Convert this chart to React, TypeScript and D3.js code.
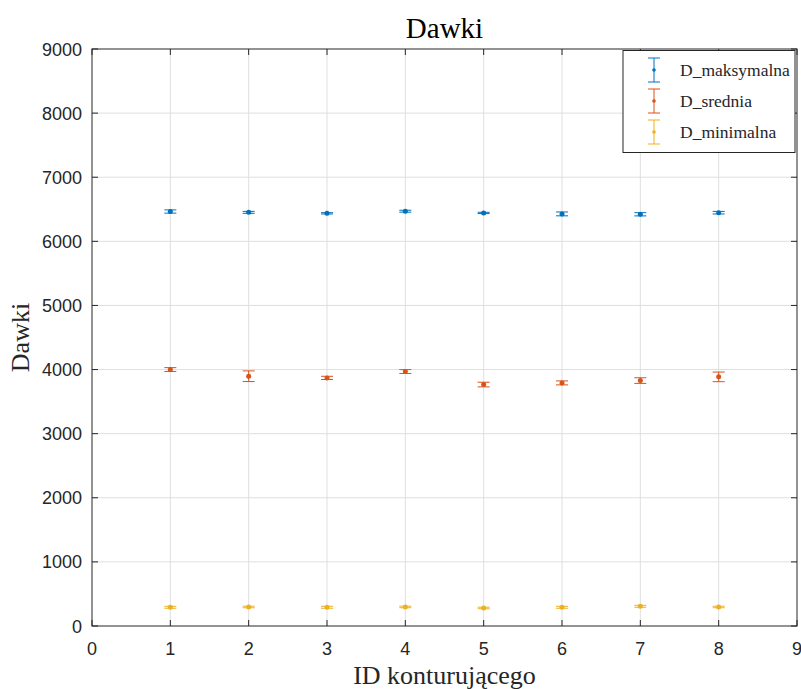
import React from "react";
import * as d3 from "d3";

// Contour IDs and dose statistics per contour
const ids = [1, 2, 3, 4, 5, 6, 7, 8];
const dMaks = [6465, 6452, 6437, 6470, 6443, 6428, 6422, 6447];
const dMaksErr = [25, 15, 10, 15, 10, 30, 25, 20];
const dSred = [4000, 3896, 3870, 3969, 3766, 3792, 3828, 3886];
const dSredErr = [30, 83, 25, 30, 36, 31, 44, 75];
const dMin = [292, 297, 292, 297, 281, 292, 307, 297];
const dMinErr = [15, 12, 15, 12, 12, 15, 15, 12];

const xTicks = [0, 1, 2, 3, 4, 5, 6, 7, 8, 9];
const yTicks = [0, 1000, 2000, 3000, 4000, 5000, 6000, 7000, 8000, 9000];
const seriesNames = ["D_maksymalna", "D_srednia", "D_minimalna"];

const W = 801;
const H = 689;
const L = 92, R = 797, T = 49, B = 626;
const AX = "#262626";
const GRID = "#dfdfdf";
const COLORS = ["#0072BD", "#D95319", "#EDB120"];
const SERIF = "Liberation Serif";
const SANS = "Liberation Sans";

export default function App() {
  const x = d3.scaleLinear().domain([0, 9]).range([L, R]);
  const y = d3.scaleLinear().domain([0, 9000]).range([B, T]);

  const series = [
    { vals: dMaks, err: dMaksErr },
    { vals: dSred, err: dSredErr },
    { vals: dMin, err: dMinErr },
  ];
  const cap = 6;
  const tick = 6;

  const errorBar = (cx: number, cy: number, lo: number, hi: number, color: string, key: string, r = 2.5) => (
    <g key={key} stroke={color} strokeWidth={1}>
      <line x1={cx} x2={cx} y1={lo} y2={hi} />
      <line x1={cx - cap} x2={cx + cap} y1={lo} y2={lo} />
      <line x1={cx - cap} x2={cx + cap} y1={hi} y2={hi} />
      <circle cx={cx} cy={cy} r={r} fill={color} stroke="none" />
    </g>
  );

  return (
    <svg width={W} height={H} style={{ position: "absolute", left: 0, top: 0, background: "#fff" }}>
      <rect x={0} y={0} width={W} height={H} fill="#fff" />
      {/* grid */}
      {xTicks.slice(1, -1).map((t) => (
        <line key={"gx" + t} x1={x(t)} x2={x(t)} y1={T} y2={B} stroke={GRID} strokeWidth={1} />
      ))}
      {yTicks.slice(1, -1).map((t) => (
        <line key={"gy" + t} x1={L} x2={R} y1={y(t)} y2={y(t)} stroke={GRID} strokeWidth={1} />
      ))}
      {/* error bars */}
      {series.map((s, si) =>
        ids.map((id, i) =>
          errorBar(x(id), y(s.vals[i]), y(s.vals[i] - s.err[i]), y(s.vals[i] + s.err[i]), COLORS[si], `e${si}-${i}`)
        )
      )}
      {/* axes box */}
      <rect x={L} y={T} width={R - L} height={B - T} fill="none" stroke={AX} strokeWidth={1} />
      {xTicks.map((t) => (
        <g key={"tx" + t} stroke={AX}>
          <line x1={x(t)} x2={x(t)} y1={B} y2={B - tick} />
          <line x1={x(t)} x2={x(t)} y1={T} y2={T + tick} />
        </g>
      ))}
      {yTicks.map((t) => (
        <g key={"ty" + t} stroke={AX}>
          <line x1={L} x2={L + tick} y1={y(t)} y2={y(t)} />
          <line x1={R} x2={R - tick} y1={y(t)} y2={y(t)} />
        </g>
      ))}
      {xTicks.map((t) => (
        <text key={"lx" + t} x={x(t)} y={B + 29} textAnchor="middle" fontFamily={SANS} fontSize={18} fill={AX}>
          {t}
        </text>
      ))}
      {yTicks.map((t) => (
        <text key={"ly" + t} x={L - 10} y={y(t) + 6.5} textAnchor="end" fontFamily={SANS} fontSize={18} fill={AX}>
          {t}
        </text>
      ))}
      {/* titles */}
      <text x={(L + R) / 2} y={38} textAnchor="middle" fontFamily={SERIF} fontSize={29} fill="#000">
        Dawki
      </text>
      <text x={(L + R) / 2} y={684} textAnchor="middle" fontFamily={SERIF} fontSize={26} fill={AX}>
        ID konturującego
      </text>
      <text
        transform={`translate(${29},${(T + B) / 2}) rotate(-90)`}
        textAnchor="middle"
        fontFamily={SERIF}
        fontSize={26}
        fill={AX}
      >
        Dawki
      </text>
      {/* legend */}
      <g>
        <rect x={623} y={50.5} width={172} height={102} fill="#fff" stroke={AX} strokeWidth={1} />
        {seriesNames.map((n, i) => {
          const cy = 70 + i * 31;
          return (
            <g key={"lg" + i}>
              {errorBar(654, cy, cy + 12, cy - 12, COLORS[i], "li" + i, 1.8)}
              <text x={680} y={cy + 6} fontFamily={SERIF} fontSize={17.5} fill={AX}>
                {n}
              </text>
            </g>
          );
        })}
      </g>
    </svg>
  );
}
